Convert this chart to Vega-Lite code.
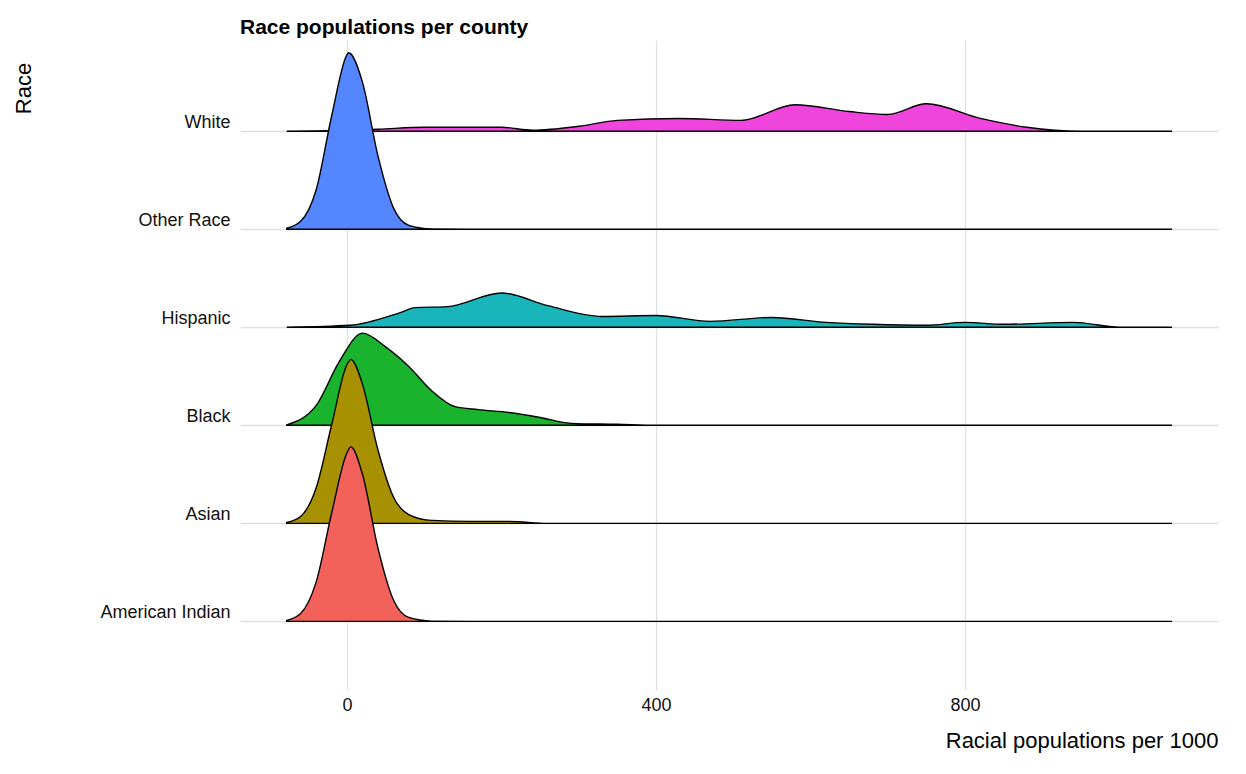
{
  "$schema": "https://vega.github.io/schema/vega-lite/v6.json",
  "autosize": "none",
  "width": 978,
  "height": 650,
  "padding": {"left": 240, "top": 40, "right": 28, "bottom": 84},
  "background": "white",
  "config": {
    "view": {"stroke": null},
    "font": "Liberation Sans",
    "axis": {"labelFont": "Liberation Sans", "titleFont": "Liberation Sans", "labelFontSize": 18, "titleFontSize": 22, "titleFontWeight": "normal", "labelColor": "#111", "titleColor": "#000", "gridColor": "#e0e0e0", "gridWidth": 1.3, "domain": false, "ticks": false}
  },
  "title": {"text": "Race populations per county", "anchor": "start", "frame": "group", "fontSize": 21, "fontWeight": "bold", "font": "Liberation Sans", "offset": 2},
  "data": {"values": [
    {"race": "American Indian", "x": -78, "base": 0, "top": 0.01},
    {"race": "American Indian", "x": -60, "base": 0, "top": 0.08},
    {"race": "American Indian", "x": -40, "base": 0, "top": 0.4},
    {"race": "American Indian", "x": -20, "base": 0, "top": 1.1},
    {"race": "American Indian", "x": 0, "base": 0, "top": 1.72},
    {"race": "American Indian", "x": 5, "base": 0, "top": 1.78},
    {"race": "American Indian", "x": 20, "base": 0, "top": 1.5},
    {"race": "American Indian", "x": 40, "base": 0, "top": 0.75},
    {"race": "American Indian", "x": 60, "base": 0, "top": 0.22},
    {"race": "American Indian", "x": 80, "base": 0, "top": 0.04},
    {"race": "American Indian", "x": 110, "base": 0, "top": 0.003},
    {"race": "American Indian", "x": 160, "base": 0, "top": 0},
    {"race": "American Indian", "x": 1068, "base": 0, "top": 0},

    {"race": "Asian", "x": -78, "base": 1, "top": 1.01},
    {"race": "Asian", "x": -60, "base": 1, "top": 1.07},
    {"race": "Asian", "x": -40, "base": 1, "top": 1.36},
    {"race": "Asian", "x": -20, "base": 1, "top": 2.0},
    {"race": "Asian", "x": 0, "base": 1, "top": 2.62},
    {"race": "Asian", "x": 5, "base": 1, "top": 2.67},
    {"race": "Asian", "x": 20, "base": 1, "top": 2.42},
    {"race": "Asian", "x": 40, "base": 1, "top": 1.75},
    {"race": "Asian", "x": 60, "base": 1, "top": 1.27},
    {"race": "Asian", "x": 80, "base": 1, "top": 1.09},
    {"race": "Asian", "x": 110, "base": 1, "top": 1.03},
    {"race": "Asian", "x": 160, "base": 1, "top": 1.02},
    {"race": "Asian", "x": 210, "base": 1, "top": 1.02},
    {"race": "Asian", "x": 260, "base": 1, "top": 1.0},
    {"race": "Asian", "x": 1068, "base": 1, "top": 1.0},

    {"race": "Black", "x": -78, "base": 2, "top": 2.005},
    {"race": "Black", "x": -40, "base": 2, "top": 2.2},
    {"race": "Black", "x": -10, "base": 2, "top": 2.65},
    {"race": "Black", "x": 20, "base": 2, "top": 2.94},
    {"race": "Black", "x": 50, "base": 2, "top": 2.8},
    {"race": "Black", "x": 80, "base": 2, "top": 2.6},
    {"race": "Black", "x": 110, "base": 2, "top": 2.35},
    {"race": "Black", "x": 140, "base": 2, "top": 2.19},
    {"race": "Black", "x": 170, "base": 2, "top": 2.16},
    {"race": "Black", "x": 210, "base": 2, "top": 2.13},
    {"race": "Black", "x": 250, "base": 2, "top": 2.08},
    {"race": "Black", "x": 290, "base": 2, "top": 2.02},
    {"race": "Black", "x": 350, "base": 2, "top": 2.01},
    {"race": "Black", "x": 400, "base": 2, "top": 2.0},
    {"race": "Black", "x": 1068, "base": 2, "top": 2.0},

    {"race": "Hispanic", "x": -78, "base": 3, "top": 3.0},
    {"race": "Hispanic", "x": 4, "base": 3, "top": 3.02},
    {"race": "Hispanic", "x": 69, "base": 3, "top": 3.15},
    {"race": "Hispanic", "x": 88, "base": 3, "top": 3.2},
    {"race": "Hispanic", "x": 130, "base": 3, "top": 3.21},
    {"race": "Hispanic", "x": 200, "base": 3, "top": 3.35},
    {"race": "Hispanic", "x": 260, "base": 3, "top": 3.22},
    {"race": "Hispanic", "x": 330, "base": 3, "top": 3.11},
    {"race": "Hispanic", "x": 400, "base": 3, "top": 3.12},
    {"race": "Hispanic", "x": 470, "base": 3, "top": 3.06},
    {"race": "Hispanic", "x": 550, "base": 3, "top": 3.1},
    {"race": "Hispanic", "x": 620, "base": 3, "top": 3.05},
    {"race": "Hispanic", "x": 680, "base": 3, "top": 3.03},
    {"race": "Hispanic", "x": 750, "base": 3, "top": 3.02},
    {"race": "Hispanic", "x": 800, "base": 3, "top": 3.05},
    {"race": "Hispanic", "x": 850, "base": 3, "top": 3.03},
    {"race": "Hispanic", "x": 940, "base": 3, "top": 3.05},
    {"race": "Hispanic", "x": 1000, "base": 3, "top": 3.0},
    {"race": "Hispanic", "x": 1068, "base": 3, "top": 3.0},

    {"race": "Other Race", "x": -78, "base": 4, "top": 4.01},
    {"race": "Other Race", "x": -60, "base": 4, "top": 4.08},
    {"race": "Other Race", "x": -40, "base": 4, "top": 4.4},
    {"race": "Other Race", "x": -20, "base": 4, "top": 5.15},
    {"race": "Other Race", "x": 0, "base": 4, "top": 5.78},
    {"race": "Other Race", "x": 2, "base": 4, "top": 5.8},
    {"race": "Other Race", "x": 20, "base": 4, "top": 5.5},
    {"race": "Other Race", "x": 40, "base": 4, "top": 4.75},
    {"race": "Other Race", "x": 60, "base": 4, "top": 4.22},
    {"race": "Other Race", "x": 80, "base": 4, "top": 4.04},
    {"race": "Other Race", "x": 110, "base": 4, "top": 4.003},
    {"race": "Other Race", "x": 160, "base": 4, "top": 4.0},
    {"race": "Other Race", "x": 1068, "base": 4, "top": 4.0},

    {"race": "White", "x": -78, "base": 5, "top": 5.0},
    {"race": "White", "x": 0, "base": 5, "top": 5.01},
    {"race": "White", "x": 40, "base": 5, "top": 5.02},
    {"race": "White", "x": 100, "base": 5, "top": 5.04},
    {"race": "White", "x": 200, "base": 5, "top": 5.04},
    {"race": "White", "x": 240, "base": 5, "top": 5.01},
    {"race": "White", "x": 300, "base": 5, "top": 5.05},
    {"race": "White", "x": 350, "base": 5, "top": 5.11},
    {"race": "White", "x": 430, "base": 5, "top": 5.13},
    {"race": "White", "x": 510, "base": 5, "top": 5.11},
    {"race": "White", "x": 580, "base": 5, "top": 5.27},
    {"race": "White", "x": 650, "base": 5, "top": 5.2},
    {"race": "White", "x": 700, "base": 5, "top": 5.17},
    {"race": "White", "x": 750, "base": 5, "top": 5.28},
    {"race": "White", "x": 820, "base": 5, "top": 5.13},
    {"race": "White", "x": 880, "base": 5, "top": 5.04},
    {"race": "White", "x": 950, "base": 5, "top": 5.0},
    {"race": "White", "x": 1068, "base": 5, "top": 5.0}
  ]},
  "encoding": {
    "x": {"field": "x", "type": "quantitative", "scale": {"domain": [-138.5, 1127.5], "nice": false, "zero": false},
      "axis": {"values": [0, 400, 800], "title": "Racial populations per 1000", "titleAnchor": "end", "titlePadding": 16, "labelPadding": 6}},
    "y": {"field": "top", "type": "quantitative", "scale": {"domain": [-0.7, 5.93], "nice": false, "zero": false},
      "axis": {"values": [0, 1, 2, 3, 4, 5], "title": "Race", "titleAngle": -90, "titleX": -205, "titleY": 48, "titleAlign": "center", "labelPadding": 10, "labelBaseline": "bottom",
        "labelExpr": "['American Indian','Asian','Black','Hispanic','Other Race','White'][datum.value]"}},
    "y2": {"field": "base"},
    "color": {"field": "race", "type": "nominal", "legend": null,
      "scale": {"domain": ["American Indian", "Asian", "Black", "Hispanic", "Other Race", "White"],
        "range": ["#F3625A", "#A89100", "#19B32E", "#1AB5BA", "#5386FF", "#EF45DC"]}}
  },
  "layer": [
    {"transform": [{"filter": "datum.race == 'White'"}], "mark": {"type": "area", "interpolate": "monotone", "stroke": "black", "strokeWidth": 1.4, "opacity": 1}},
    {"transform": [{"filter": "datum.race == 'Other Race'"}], "mark": {"type": "area", "interpolate": "monotone", "stroke": "black", "strokeWidth": 1.4, "opacity": 1}},
    {"transform": [{"filter": "datum.race == 'Hispanic'"}], "mark": {"type": "area", "interpolate": "monotone", "stroke": "black", "strokeWidth": 1.4, "opacity": 1}},
    {"transform": [{"filter": "datum.race == 'Black'"}], "mark": {"type": "area", "interpolate": "monotone", "stroke": "black", "strokeWidth": 1.4, "opacity": 1}},
    {"transform": [{"filter": "datum.race == 'Asian'"}], "mark": {"type": "area", "interpolate": "monotone", "stroke": "black", "strokeWidth": 1.4, "opacity": 1}},
    {"transform": [{"filter": "datum.race == 'American Indian'"}], "mark": {"type": "area", "interpolate": "monotone", "stroke": "black", "strokeWidth": 1.4, "opacity": 1}}
  ]
}
